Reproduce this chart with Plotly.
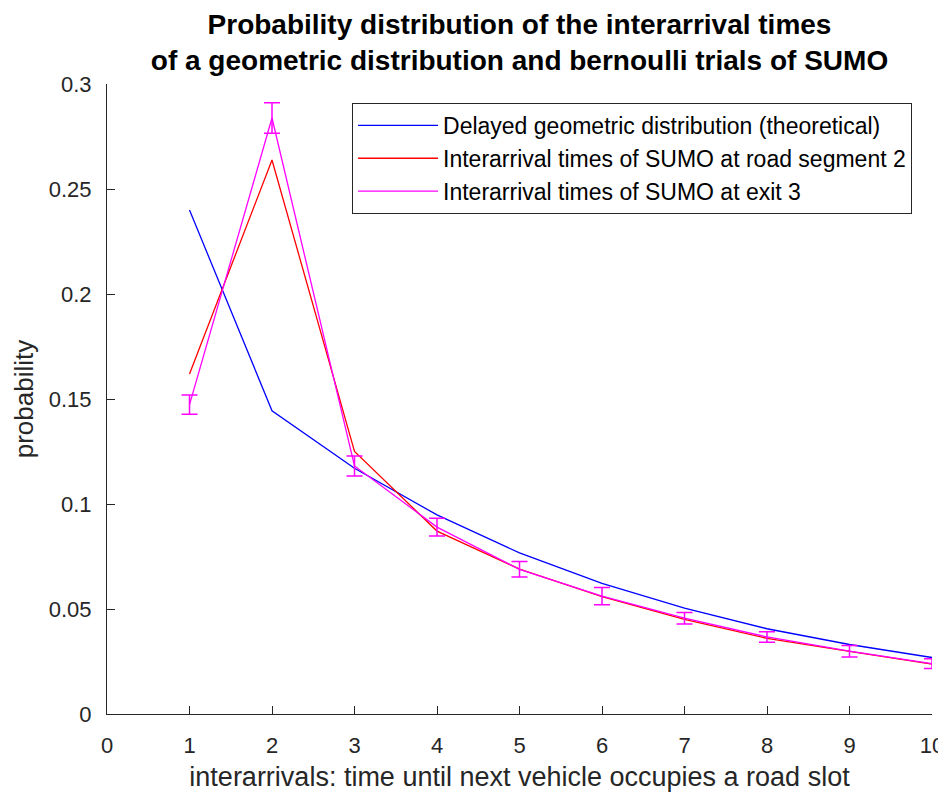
import plotly.graph_objects as go

# interarrival time slots
slots = [1, 2, 3, 4, 5, 6, 7, 8, 9, 10]

# delayed geometric distribution (theoretical)
geometric = [0.240, 0.1444, 0.1170, 0.0948, 0.0767, 0.0622, 0.0504, 0.0406, 0.0331, 0.0269]

# SUMO measurements at road segment 2
segment2 = [0.1619, 0.2638, 0.1250, 0.0871, 0.0690, 0.0559, 0.0451, 0.0360, 0.0298, 0.0237]

# SUMO measurements at exit 3, with error bars
exit3 = [0.1473, 0.2838, 0.1181, 0.0890, 0.0689, 0.0561, 0.0456, 0.0367, 0.0299, 0.0240]
exit3_err = [0.0046, 0.0073, 0.0048, 0.0042, 0.0037, 0.0041, 0.0027, 0.0025, 0.0027, 0.0023]

y_ticks = [0, 0.05, 0.1, 0.15, 0.2, 0.25, 0.3]
y_labels = ["0", "0.05", "0.1", "0.15", "0.2", "0.25", "0.3"]

FONT = 'Liberation Sans, Arial, sans-serif'

fig = go.Figure()
fig.add_trace(go.Scatter(
    x=slots, y=geometric, mode='lines', legendgroup='a',
    line=dict(color='#0000ff', width=1.3),
    name='Delayed geometric distribution (theoretical)'))
fig.add_trace(go.Scatter(
    x=slots, y=segment2, mode='lines', legendgroup='b',
    line=dict(color='#ff0000', width=1.3),
    name='Interarrival times of SUMO at road segment 2'))
fig.add_trace(go.Scatter(
    x=slots, y=exit3, mode='lines', legendgroup='c',
    line=dict(color='#ff00ff', width=1.3),
    error_y=dict(type='data', array=exit3_err, color='#ff00ff',
                 thickness=1.5, width=8),
    name='Interarrival times of SUMO at exit 3'))

# the page body has an 8px margin, so the figure is shrunk by that much
fig.update_layout(
    width=938, height=785,
    paper_bgcolor='white', plot_bgcolor='white',
    margin=dict(l=99, r=14, t=76, b=79, autoexpand=False),
    font=dict(family=FONT, size=22, color='#262626'),
    title=dict(
        text='<b>Probability distribution of the interarrival times<br>'
             'of a geometric distribution and bernoulli trials of SUMO</b>',
        x=0.5, xref='paper', xanchor='center',
        y=1 - 26 / 785, yref='container', yanchor='middle',
        font=dict(family=FONT, size=28, color='black')),
    legend=dict(
        x=0.297, y=0.97, xanchor='left', yanchor='top',
        bordercolor='#262626', borderwidth=1, bgcolor='white',
        font=dict(family=FONT, size=23, color='black'),
        tracegroupgap=0, itemwidth=80),
    showlegend=True,
)

fig.update_xaxes(
    range=[0, 10], tickmode='linear', tick0=0, dtick=1,
    showgrid=False, zeroline=False, automargin=False,
    showline=True, linecolor='#262626', linewidth=1,
    ticks='inside', ticklen=8, tickcolor='#262626', ticklabelstandoff=12,
    title=dict(text='interarrivals: time until next vehicle occupies a road slot',
               font=dict(size=27), standoff=9))
fig.update_yaxes(
    range=[0, 0.3], tickvals=y_ticks, ticktext=y_labels,
    showgrid=False, zeroline=False, automargin=False,
    showline=True, linecolor='#262626', linewidth=1,
    ticks='inside', ticklen=8, tickcolor='#262626', ticklabelstandoff=10,
    title=dict(text='probability', font=dict(size=26), standoff=7))

fig.write_html("out.html")
